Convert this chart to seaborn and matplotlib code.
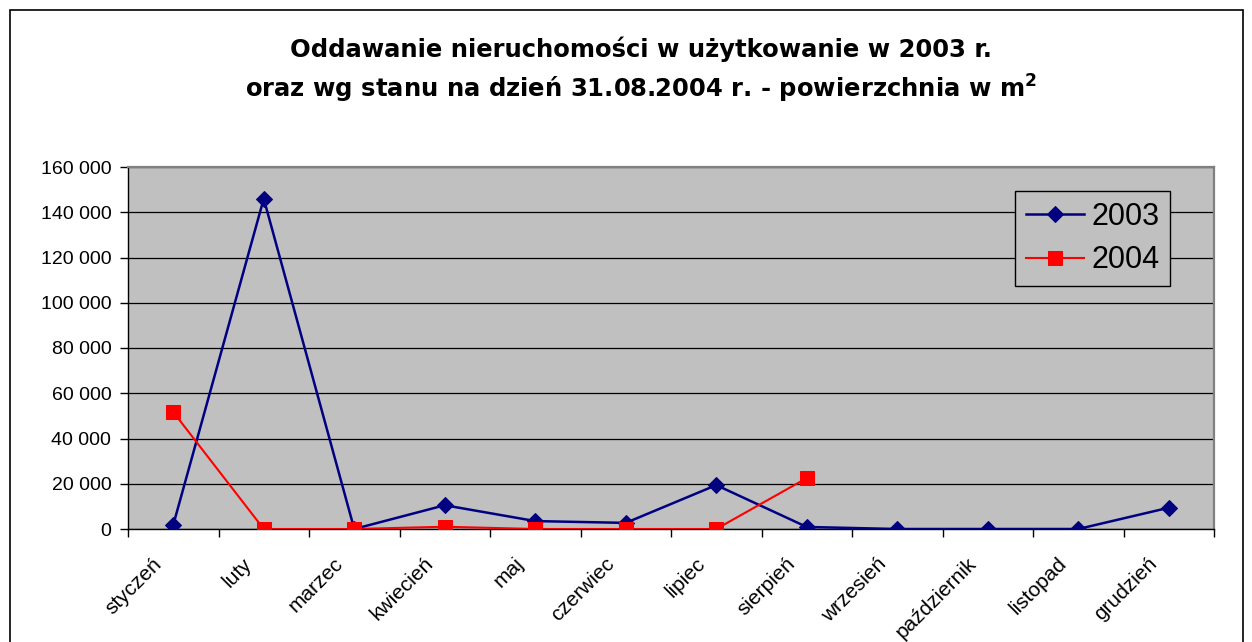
import numpy as np
import pandas as pd
import matplotlib
matplotlib.use("Agg")
import matplotlib.pyplot as plt
import matplotlib.transforms as mtransforms
import seaborn as sns
from matplotlib.ticker import FuncFormatter, FixedLocator
from matplotlib.patches import Rectangle

# data (m2)
months = ['styczeń', 'luty', 'marzec', 'kwiecień', 'maj', 'czerwiec',
          'lipiec', 'sierpień', 'wrzesień', 'październik', 'listopad', 'grudzień']
area_2003 = [1800, 146000, 0, 10500, 3500, 2700, 19400, 900, 0, 0, 0, 9400]
area_2004 = [51700, 0, 0, 1000, 0, 0, 0, 22500]

plt.rcParams['font.family'] = ['Liberation Sans', 'DejaVu Sans']
plt.rcParams['mathtext.fontset'] = 'custom'
plt.rcParams['mathtext.rm'] = 'DejaVu Sans'
plt.rcParams['mathtext.bf'] = 'DejaVu Sans:bold'

df03 = pd.DataFrame({'pos': np.arange(len(area_2003)), 'val': area_2003})
df04 = pd.DataFrame({'pos': np.arange(len(area_2004)), 'val': area_2004})

fig = plt.figure(figsize=(12.52, 6.42), dpi=100)
ax = fig.add_axes([128/1252, 1-529/642, (1214-128)/1252, (529-167)/642])
ax.set_facecolor('#C0C0C0')

sns.lineplot(data=df03, x='pos', y='val', ax=ax, color='#000080', lw=1.8,
             marker='D', markersize=8.5, markeredgecolor='#000080', label='2003', zorder=3)
sns.lineplot(data=df04, x='pos', y='val', ax=ax, color='#FF0000', lw=1.5,
             marker='s', markersize=10, markeredgecolor='#FF0000', label='2004', zorder=4)

ax.set_xlim(-0.5, 11.5)
ax.set_ylim(0, 160000)
ax.set_yticks(np.arange(0, 160001, 20000))
ax.yaxis.set_major_formatter(FuncFormatter(lambda v, p: f"{v:,.0f}".replace(",", " ")))
ax.yaxis.grid(True, color='black', lw=0.9)
ax.set_axisbelow(True)

# labels at category centres, tick marks at boundaries
ax.set_xticks(np.arange(12))
ax.set_xticklabels(months, rotation=45, ha='right', rotation_mode='anchor')
ax.tick_params(axis='x', which='major', length=0, pad=18, labelsize=15)
ax.xaxis.set_minor_locator(FixedLocator(np.arange(-0.5, 12, 1)))
ax.tick_params(axis='x', which='minor', length=6, width=1, color='black', direction='out')
ax.tick_params(axis='y', length=6, width=1, color='black', direction='out', labelsize=14, pad=6)
shift = mtransforms.ScaledTranslation(-21/100, 0, fig.dpi_scale_trans)
for lab in ax.get_xticklabels():
    lab.set_transform(lab.get_transform() + shift)

ax.set_xlabel('')
ax.set_ylabel('')
for s in ['top', 'right']:
    ax.spines[s].set_color('#808080')
    ax.spines[s].set_linewidth(1.6)
for s in ['left', 'bottom']:
    ax.spines[s].set_color('black')
    ax.spines[s].set_linewidth(1.0)

leg = ax.legend(loc='upper right', bbox_to_anchor=(0.9595, 0.934), fontsize=22,
                frameon=True, fancybox=False, facecolor='#C0C0C0', edgecolor='black',
                framealpha=1, handlelength=1.9, handletextpad=0.25, labelspacing=0.45,
                borderpad=0.35, borderaxespad=0)
leg.get_frame().set_linewidth(1.0)

fig.text(0.512, 1-57/642, 'Oddawanie nieruchomości w użytkowanie w 2003 r.',
         ha='center', va='baseline', fontsize=17.5, fontweight='bold', family='DejaVu Sans')
fig.text(0.512, 1-98/642, r'oraz wg stanu na dzień 31.08.2004 r. - powierzchnia w m$^{\mathbf{2}}$',
         ha='center', va='baseline', fontsize=17.5, fontweight='bold', family='DejaVu Sans')

fig.patches.append(Rectangle((10/1252, -0.05), (1243-10)/1252, 1-10/642+0.05,
                             transform=fig.transFigure, fill=False, edgecolor='black', lw=1.2))

fig.savefig('out.png', dpi=100)
